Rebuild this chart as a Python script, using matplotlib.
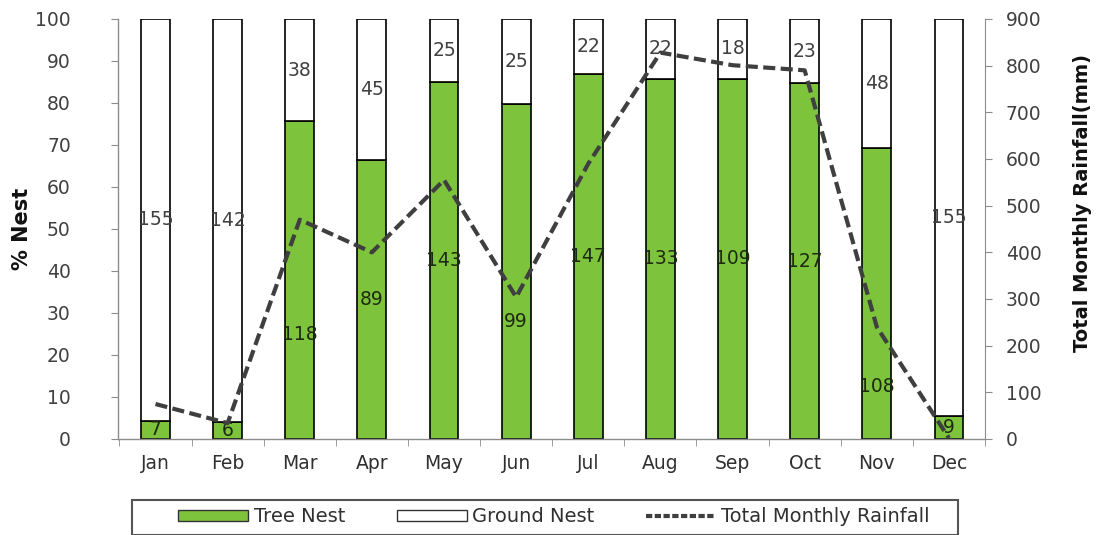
import matplotlib
matplotlib.use("Agg")
import matplotlib.pyplot as plt
import numpy as np
from matplotlib.patches import Patch, Rectangle
from matplotlib.lines import Line2D

months = ["Jan", "Feb", "Mar", "Apr", "May", "Jun", "Jul", "Aug", "Sep", "Oct", "Nov", "Dec"]
tree_nest = [7, 6, 118, 89, 143, 99, 147, 133, 109, 127, 108, 9]
ground_nest = [155, 142, 38, 45, 25, 25, 22, 22, 18, 23, 48, 155]
rainfall = [75, 34, 470, 400, 555, 304, 590, 828, 801, 790, 240, 2]
left_ticks = list(range(0, 101, 10))
right_ticks = list(range(0, 901, 100))

# label placement overrides (percent axis) for tree-nest labels moved in the original
tree_label_y = {2: 24.8, 5: 28.0, 10: 12.4}

tree = np.array(tree_nest, dtype=float)
ground = np.array(ground_nest, dtype=float)
total = tree + ground
tree_pct = tree / total * 100
ground_pct = ground / total * 100

GREEN = "#7DC43C"
GREY = "#8c8c8c"
TXT = "#404040"
W, H = 1102, 535

fig = plt.figure(figsize=(W / 100, H / 100), dpi=100)
ax = fig.add_axes([118 / W, 1 - 439 / H, 867 / W, 420 / H])
x = np.arange(len(months))
w = 0.40
ax.bar(x, tree_pct, width=w, color=GREEN, edgecolor="black", linewidth=1.2, zorder=2)
ax.bar(x, ground_pct, width=w, bottom=tree_pct, color="white", edgecolor="black",
       linewidth=1.2, zorder=2)

for i in range(len(months)):
    ty = tree_label_y.get(i, tree_pct[i] / 2)
    ax.text(x[i], ty, str(tree_nest[i]), ha="center", va="center", fontsize=13.5,
            color="#1e2a10", zorder=5)
    gy = tree_pct[i] + ground_pct[i] / 2
    ax.text(x[i], gy, str(ground_nest[i]), ha="center", va="center", fontsize=13.5,
            color=TXT, zorder=5)

ax.set_xlim(-0.52, 11.48)
ax.set_ylim(0, 100)
ax.set_yticks(left_ticks)
ax.set_xticks(x)
ax.set_xticklabels(months)
ax.set_xticks(np.arange(-0.5, 12, 1), minor=True)
ax.tick_params(axis="x", which="major", length=0, labelsize=13.5, colors="#303030", pad=11)
ax.tick_params(axis="x", which="minor", length=5, color=GREY, direction="out")
ax.tick_params(axis="y", length=5, color=GREY, labelsize=13.5, labelcolor=TXT, pad=29)
for s in ["top", "right"]:
    ax.spines[s].set_visible(False)
for s in ["left", "bottom"]:
    ax.spines[s].set_color(GREY)
    ax.spines[s].set_linewidth(1.0)
ax.set_ylabel("% Nest", fontsize=15, fontweight="bold", color="#111111")
ax.yaxis.set_label_coords(-0.099, 0.5)

ax2 = ax.twinx()
ln, = ax2.plot(x, rainfall, color="#3f3f3f", linewidth=3, zorder=6)
ln.set_dashes((2.9, 1.3))
ax2.set_ylim(0, 900)
ax2.set_yticks(right_ticks)
ax2.tick_params(axis="y", length=5, color=GREY, labelsize=13.5, labelcolor=TXT, pad=10)
for s in ["top", "left", "bottom"]:
    ax2.spines[s].set_visible(False)
ax2.spines["right"].set_color(GREY)
ax2.set_ylabel("Total Monthly Rainfall(mm)", fontsize=14, fontweight="bold", color="#111111")
ax2.yaxis.set_label_coords(1.101, 0.562)

# legend frame drawn as figure rectangle
fig.patches.append(Rectangle((132 / W, 0.0), 826 / W, 35 / H, transform=fig.transFigure,
                             facecolor="white", edgecolor="#555555", linewidth=1.5,
                             zorder=0))
handles = [
    Patch(facecolor=GREEN, edgecolor="#333333", linewidth=1.0),
    Patch(facecolor="white", edgecolor="#333333", linewidth=1.0),
    Line2D([0], [0], color="#3f3f3f", linewidth=3, dashes=(1.5, 0.6)),
]
labels = ["Tree Nest", "Ground Nest", "Total Monthly Rainfall"]
leg = fig.legend(handles, labels, loc="center", bbox_to_anchor=(554 / W, 1 - 517 / H),
                 ncol=3, frameon=False, fontsize=14, handlelength=3.6,
                 handleheight=0.55, handletextpad=0.28, columnspacing=2.65,
                 borderpad=0.2, labelcolor="#303030")

fig.savefig("out.png", dpi=100)
